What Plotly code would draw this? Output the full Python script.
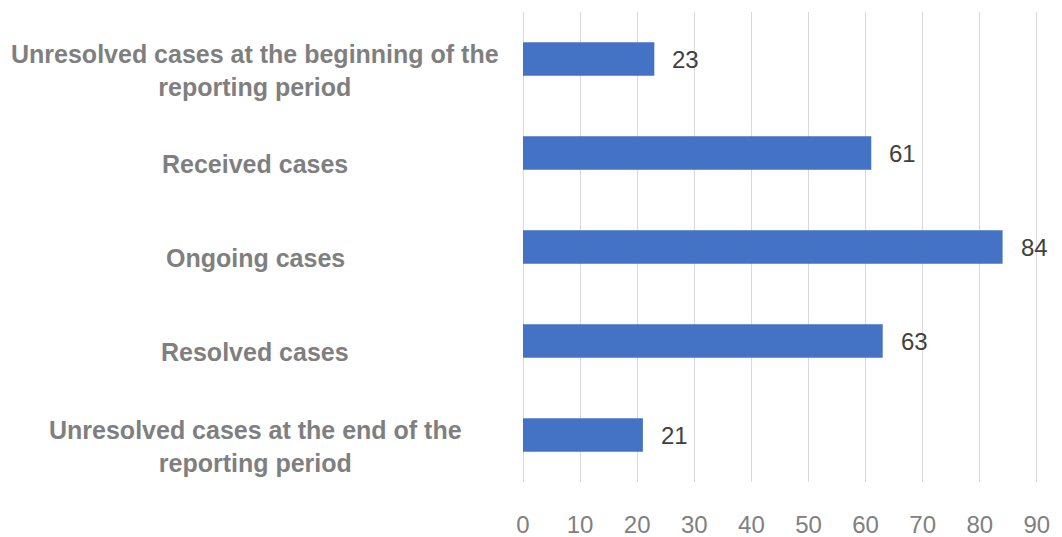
import plotly.graph_objects as go

# Case counts for the reporting period
categories = [
    "Unresolved cases at the beginning of the<br>reporting period",
    "Received cases",
    "Ongoing cases",
    "Resolved cases",
    "Unresolved cases at the end of the<br>reporting period",
]
values = [23, 61, 84, 63, 21]
x_ticks = [0, 10, 20, 30, 40, 50, 60, 70, 80, 90]

W, H = 1062, 537
ML, MR, MT, MB = 523, 24, 12, 55
plot_w = W - ML - MR
FONT = "Liberation Sans, Arial, sans-serif"

ids = list(range(len(categories)))

fig = go.Figure(
    go.Bar(
        x=values,
        y=ids,
        orientation="h",
        marker=dict(color="#4472C4", line=dict(width=0)),
        hoverinfo="skip",
    )
)

# value labels to the right of each bar
for i, v in zip(ids, values):
    fig.add_annotation(
        x=v, y=i, xref="x", yref="y",
        text=str(v), showarrow=False,
        xanchor="left", yanchor="middle", xshift=16,
        font=dict(family=FONT, size=24, color="#404040"),
    )

# category labels, centred in the left margin
label_cx = 255
for i, c in zip(ids, categories):
    fig.add_annotation(
        x=(label_cx - ML) / plot_w, y=i, xref="paper", yref="y",
        text=c, showarrow=False, align="center",
        xanchor="center", yanchor="middle", yshift=-11,
        font=dict(family=FONT, size=25, color="#7f7f7f", weight="bold"),
    )

fig.update_layout(
    width=W, height=H,
    margin=dict(l=ML, r=MR, t=MT, b=MB, autoexpand=False),
    paper_bgcolor="white", plot_bgcolor="white",
    bargap=0.645,
    showlegend=False,
    xaxis=dict(
        range=[0, 90.2],
        automargin=False,
        tickmode="array", tickvals=x_ticks,
        ticktext=[str(t) for t in x_ticks],
        showgrid=True, gridcolor="#d9d9d9", gridwidth=1,
        zeroline=True, zerolinecolor="#d9d9d9", zerolinewidth=1,
        showline=False, ticks="",
        ticklabelstandoff=26,
        tickfont=dict(family=FONT, size=24, color="#808080"),
    ),
    yaxis=dict(
        range=[len(categories) - 0.5, -0.5],
        automargin=False,
        showticklabels=False, showgrid=False, zeroline=False,
        showline=False, ticks="",
    ),
)

fig.write_html("out.html")
